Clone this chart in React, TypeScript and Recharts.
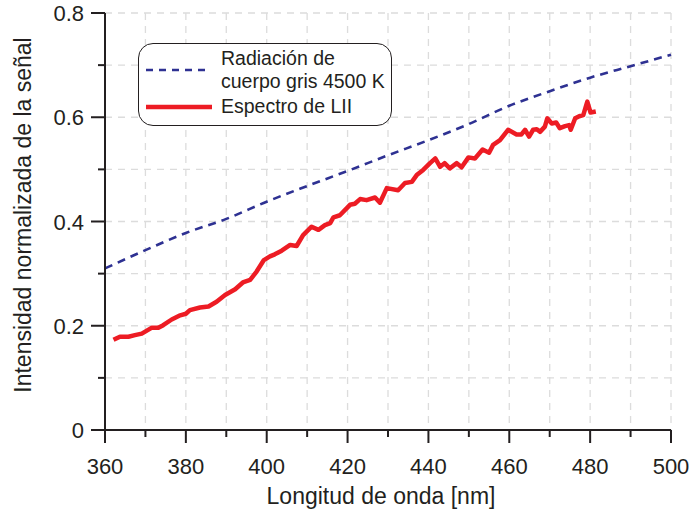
import React from "react";
import { LineChart, Line, XAxis, YAxis, CartesianGrid } from "recharts";

const W = 693;
const H = 513;
const INK = "#231f20";
const BLUE = "#2e3192";
const RED = "#ed1c24";
const FONT = "'Liberation Sans', Arial, Helvetica, sans-serif";

// wavelength axis (nm) and intensity axis
const xTicks = [360, 370, 380, 390, 400, 410, 420, 430, 440, 450, 460, 470, 480, 490, 500];
const yTicks = [0, 0.1, 0.2, 0.3, 0.4, 0.5, 0.6, 0.7, 0.8];

// grey-body radiation, 4500 K
const greyNm = [360, 370, 380, 390, 400, 410, 420, 430, 440, 450, 460, 470, 480, 490, 500];
const greyVal = [0.31, 0.345, 0.378, 0.405, 0.438, 0.468, 0.497, 0.527, 0.556, 0.587, 0.622, 0.65, 0.676, 0.698, 0.72];

// measured LII spectrum
const liiNm = [
  362.1, 363.7, 365.8, 367.4, 369.1, 371.5, 373.2, 374.4, 376.5, 378.6,
  380.0, 381.0, 383.5, 385.6, 387.6, 389.7, 392.2, 394.1, 395.9, 397.5,
  399.3, 400.8, 402.0, 403.7, 405.8, 407.4, 409.0, 411.1, 412.8, 414.4,
  415.7, 416.5, 418.1, 420.6, 421.8, 423.1, 424.7, 426.8, 428.0, 429.7,
  432.5, 434.2, 435.9, 437.1, 438.7, 440.4, 441.7, 442.9, 444.0, 445.3,
  447.0, 448.2, 449.9, 451.5, 453.4, 455.0, 456.0, 457.7, 459.7, 461.8,
  463.0, 463.9, 464.9, 465.9, 466.8, 467.6, 468.8, 469.4, 470.5, 471.6,
  472.5, 473.8, 474.8, 475.2, 476.3, 477.3, 478.3, 479.3, 480.1, 481.4,
];
const liiVal = [
  0.173, 0.179, 0.179, 0.182, 0.185, 0.196, 0.196, 0.201, 0.212, 0.22,
  0.223, 0.23, 0.235, 0.237, 0.246, 0.259, 0.27, 0.283, 0.288, 0.304,
  0.326, 0.333, 0.337, 0.344, 0.355, 0.353, 0.374, 0.39, 0.384, 0.393,
  0.397, 0.408, 0.412, 0.432, 0.434, 0.443, 0.441, 0.446, 0.436, 0.464,
  0.46, 0.474, 0.476, 0.489, 0.499, 0.512, 0.521, 0.505, 0.512, 0.502,
  0.512, 0.504, 0.523, 0.521, 0.538, 0.532, 0.547, 0.556, 0.576, 0.567,
  0.567, 0.576, 0.563, 0.576, 0.577, 0.572, 0.582, 0.598, 0.588, 0.59,
  0.579, 0.583, 0.585, 0.576, 0.598, 0.602, 0.604, 0.63, 0.609, 0.611,
];

const greyData = greyNm.map((nm, i) => ({ nm, v: greyVal[i] }));
const liiData = liiNm.map((nm, i) => ({ nm, v: liiVal[i] }));

const isMajorX = (v: number) => v % 20 === 0;
const isMajorY = (v: number) => Math.round(v * 10) % 2 === 0;

const BottomTick = ({ x, y, payload }: any) => {
  const major = isMajorX(payload.value);
  return (
    <g>
      <line x1={x} x2={x} y1={y} y2={y + (major ? 13 : 7)} stroke={INK} strokeWidth={2} />
      {major && (
        <text x={x} y={y + 44} textAnchor="middle" fontSize={22} fill={INK} fontFamily={FONT}>
          {payload.value}
        </text>
      )}
    </g>
  );
};

const TopTick = ({ x, y, payload }: any) => {
  const major = isMajorX(payload.value);
  return <line x1={x} x2={x} y1={y} y2={y + (major ? 13 : 7)} stroke={INK} strokeWidth={2} />;
};

const LeftTick = ({ x, y, payload }: any) => {
  const major = isMajorY(payload.value);
  return (
    <g>
      <line x1={x} x2={x - (major ? 14 : 7)} y1={y} y2={y} stroke={INK} strokeWidth={2} />
      {major && (
        <text x={x - 21} y={y + 8} textAnchor="end" fontSize={22} fill={INK} fontFamily={FONT}>
          {payload.value === 0 ? "0" : payload.value.toFixed(1)}
        </text>
      )}
    </g>
  );
};

const RightTick = ({ x, y, payload }: any) => {
  const major = isMajorY(payload.value);
  return <line x1={x} x2={x - (major ? 13 : 7)} y1={y} y2={y} stroke={INK} strokeWidth={2} />;
};

function ChartLegend() {
  return (
    <div
      style={{
        position: "absolute",
        left: 138,
        top: 43,
        width: 254,
        height: 83,
        boxSizing: "border-box",
        border: `1.6px solid ${INK}`,
        borderRadius: 15,
        background: "#fff",
      }}
    >
      <svg width={252} height={81} style={{ display: "block" }}>
        <line x1={7} x2={71} y1={26} y2={26} stroke={BLUE} strokeWidth={2.6} strokeDasharray="7 6" />
        <line x1={7} x2={73} y1={63} y2={63} stroke={RED} strokeWidth={4.5} />
        <g fontFamily={FONT} fontSize={19.5} fill={INK}>
          <text x={82} y={21}>Radiación de</text>
          <text x={82} y={44}>cuerpo gris 4500 K</text>
          <text x={82} y={69}>Espectro de LII</text>
        </g>
      </svg>
    </div>
  );
}

export default function App() {
  return (
    <div style={{ position: "absolute", left: 0, top: 0, width: W, height: H, background: "#fff" }}>
      <LineChart width={W} height={H} margin={{ top: 13, right: 22, left: 0, bottom: 0 }}>
        <CartesianGrid xAxisId="b" yAxisId="l" stroke="#dcdcdc" strokeWidth={1.3} strokeDasharray="7 6" />
        <XAxis
          xAxisId="b"
          type="number"
          dataKey="nm"
          domain={[360, 500]}
          ticks={xTicks}
          interval={0}
          height={83}
          tickSize={0}
          tickMargin={0}
          tickLine={false}
          axisLine={{ stroke: INK, strokeWidth: 2 }}
          tick={<BottomTick />}
          label={{
            content: () => (
              <text x={381} y={504} textAnchor="middle" fontSize={23} fill={INK} fontFamily={FONT}>
                Longitud de onda [nm]
              </text>
            ),
          }}
        />
        <XAxis
          xAxisId="t"
          orientation="top"
          type="number"
          dataKey="nm"
          domain={[360, 500]}
          ticks={xTicks}
          interval={0}
          height={0}
          tickSize={0}
          tickMargin={0}
          tickLine={false}
          axisLine={{ stroke: INK, strokeWidth: 2 }}
          tick={<TopTick />}
        />
        <YAxis
          yAxisId="l"
          type="number"
          domain={[0, 0.8]}
          ticks={yTicks}
          interval={0}
          width={105}
          tickSize={0}
          tickMargin={0}
          tickLine={false}
          axisLine={{ stroke: INK, strokeWidth: 2 }}
          tick={<LeftTick />}
          label={{
            content: () => (
              <text
                transform="translate(31,215) rotate(-90)"
                textAnchor="middle"
                fontSize={23}
                fill={INK}
                fontFamily={FONT}
              >
                Intensidad normalizada de la señal
              </text>
            ),
          }}
        />
        <YAxis
          yAxisId="r"
          orientation="right"
          type="number"
          domain={[0, 0.8]}
          ticks={yTicks}
          interval={0}
          width={0}
          tickSize={0}
          tickMargin={0}
          tickLine={false}
          axisLine={{ stroke: INK, strokeWidth: 2 }}
          tick={<RightTick />}
        />
        <Line
          xAxisId="b"
          yAxisId="l"
          data={greyData}
          dataKey="v"
          type="monotone"
          stroke={BLUE}
          strokeWidth={2.6}
          strokeDasharray="8 6"
          dot={false}
          activeDot={false}
          isAnimationActive={false}
        />
        <Line
          xAxisId="b"
          yAxisId="l"
          data={liiData}
          dataKey="v"
          type="linear"
          stroke={RED}
          strokeWidth={4.5}
          strokeLinejoin="round"
          dot={false}
          activeDot={false}
          isAnimationActive={false}
        />
      </LineChart>
      <ChartLegend />
    </div>
  );
}
